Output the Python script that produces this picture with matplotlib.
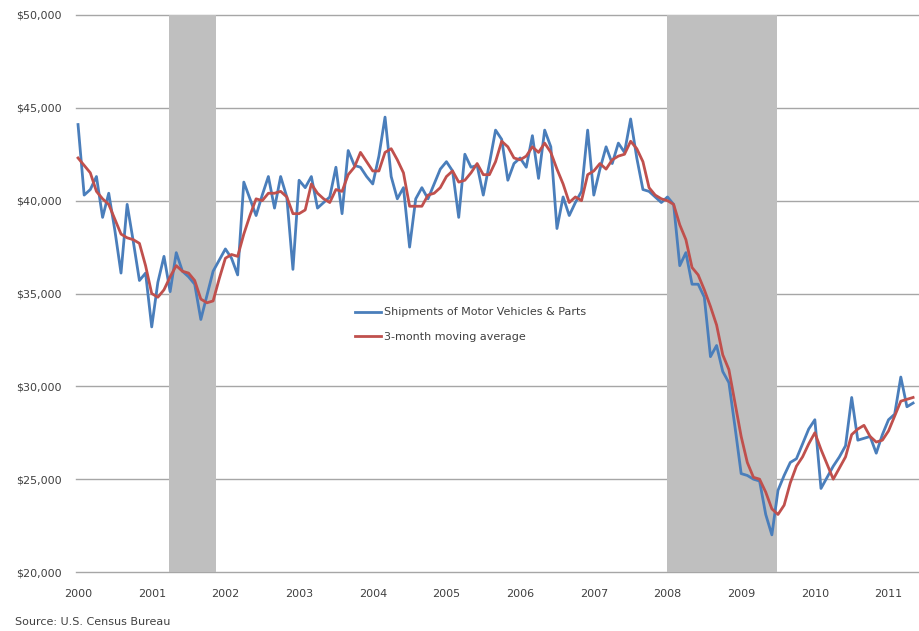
import numpy as np
import pandas as pd
import matplotlib
matplotlib.use("Agg")
import matplotlib.pyplot as plt
from matplotlib.ticker import FuncFormatter

# monthly shipments, millions of dollars
months = pd.period_range("2000-01", "2011-05", freq="M")

shipments = [
    44100, 40300, 40600, 41300, 39100, 40400, 38400, 36100, 39800, 37800, 35700, 36100,
    33200, 35600, 37000, 35100, 37200, 36200, 35900, 35500, 33600, 34900, 36200, 36800,
    37400, 36900, 36000, 41000, 40100, 39200, 40300, 41300, 39600, 41300, 40200, 36300,
    41100, 40700, 41300, 39600, 39900, 40200, 41800, 39300, 42700, 41900, 41800, 41300,
    40900, 42400, 44500, 41300, 40100, 40700, 37500, 40100, 40700, 40100, 40900, 41700,
    42100, 41600, 39100, 42500, 41800, 41900, 40300, 42000, 43800, 43300, 41100, 42000,
    42300, 41800, 43500, 41200, 43800, 42900, 38500, 40200, 39200, 39900, 40500, 43800,
    40300, 41700, 42900, 42000, 43100, 42600, 44400, 42300, 40600, 40500, 40200, 39900,
    40200, 39800, 36500, 37200, 35500, 35500, 34800, 31600, 32200, 30800, 30200, 27800,
    25300, 25200, 25000, 24900, 23100, 22000, 24400, 25200, 25900, 26100, 26900, 27700,
    28200, 24500, 25100, 25700, 26200, 26800, 29400, 27100, 27200, 27300, 26400, 27400,
    28200, 28500, 30500, 28900, 29100,
]

moving_avg = [
    42300, 41900, 41500, 40500, 40100, 39800, 39000, 38200, 38000, 37900, 37700, 36500,
    35000, 34800, 35200, 35900, 36500, 36200, 36100, 35700, 34700, 34500, 34600, 35800,
    36900, 37100, 37000, 38200, 39200, 40100, 40000, 40400, 40400, 40500, 40200, 39300,
    39300, 39500, 40900, 40400, 40100, 39900, 40600, 40500, 41400, 41800, 42600, 42100,
    41600, 41600, 42600, 42800, 42200, 41500, 39700, 39700, 39700, 40300, 40400, 40700,
    41300, 41600, 41000, 41100, 41500, 42000, 41400, 41400, 42100, 43200, 42900, 42300,
    42200, 42400, 42900, 42600, 43100, 42600, 41700, 40900, 39900, 40200, 40000, 41400,
    41600, 42000, 41700, 42200, 42400, 42500, 43200, 42800, 42100, 40700, 40300, 40100,
    40000, 39800, 38700, 37900, 36400, 36000, 35200, 34300, 33300, 31700, 30900, 29100,
    27300, 25900, 25100, 25000, 24300, 23400, 23100, 23600, 24800, 25700, 26200, 26900,
    27500, 26600, 25800, 25000, 25600, 26200, 27400, 27700, 27900, 27300, 27000, 27100,
    27600, 28400, 29200, 29300, 29400,
]

# recession periods in decimal years
recessions = [(2001.23, 2001.87), (2007.99, 2009.48)]

years = list(range(2000, 2012))
y_ticks = [20000, 25000, 30000, 35000, 40000, 45000, 50000]

x = months.year + (months.month - 1) / 12

fig = plt.figure(figsize=(9.19, 6.31), dpi=100)
ax = fig.add_axes([76 / 919, 1 - 572 / 631, 842 / 919, 557 / 631])

text_color = "#404040"

for yt in y_ticks:
    ax.axhline(yt, color="#a6a6a6", lw=1.0, zorder=1, clip_on=False)

for start, end in recessions:
    ax.axvspan(start, end, color="#bfbfbf", lw=0, zorder=2)

ax.plot(x, shipments, color="#4a7ebb", lw=2.0, zorder=3,
        label="Shipments of Motor Vehicles & Parts")
ax.plot(x, moving_avg, color="#c0504d", lw=2.0, zorder=4,
        label="3-month moving average")

ax.set_xlim(2000 - 0.33 / 12, 2000 + 136.8 / 12)
ax.set_ylim(20000, 50000)
ax.set_xticks(years)
ax.set_xticklabels([str(y) for y in years])
ax.set_yticks(y_ticks)
ax.yaxis.set_major_formatter(FuncFormatter(lambda v, p: "${:,.0f}".format(v)))
ax.tick_params(axis="both", length=0, labelsize=8, colors=text_color)
ax.tick_params(axis="y", pad=10)
ax.tick_params(axis="x", pad=12)
for s in ax.spines.values():
    s.set_visible(False)

leg = ax.legend(loc="upper left", bbox_to_anchor=(0.331, 0.475), frameon=False,
                fontsize=8, handlelength=2.4, handletextpad=0.2,
                labelspacing=1.3, borderpad=0, borderaxespad=0)
for t in leg.get_texts():
    t.set_color(text_color)

fig.text(15 / 919, 1 - 622 / 631, "Source: U.S. Census Bureau", fontsize=8,
         color=text_color, va="center", ha="left")

fig.savefig("out.png", dpi=100)
